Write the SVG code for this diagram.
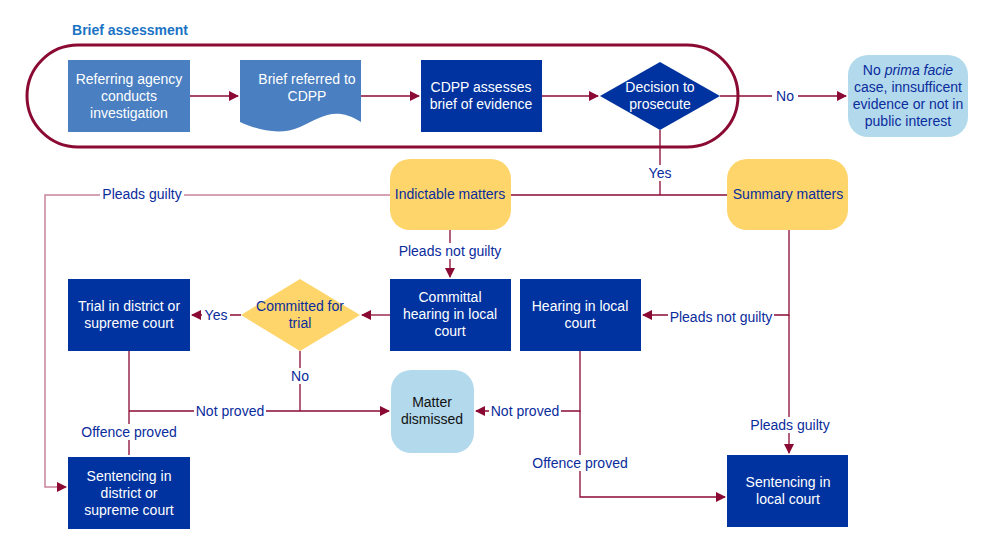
<svg xmlns="http://www.w3.org/2000/svg" width="995" height="556" viewBox="0 0 995 556">
<style>
text{font-family:"Liberation Sans",Arial,sans-serif;font-size:14px;text-anchor:middle}
.w{fill:#fff}.b{fill:#0a2c9c}
.ln{fill:none;stroke:#8b0a33;stroke-width:1.3}
.lt{fill:none;stroke:#c98399;stroke-width:1.5}
.lb{fill:#fff}
</style>
<defs><marker id="a" markerWidth="10" markerHeight="10" refX="9" refY="5" orient="auto" markerUnits="userSpaceOnUse"><path d="M0,0 L10,5 L0,10 z" fill="#8b0a33"/></marker></defs>
<rect width="995" height="556" fill="#fff"/>
<text x="130" y="35" style="font-weight:bold;fill:#1a73c4">Brief assessment</text>
<rect x="27" y="45" width="711" height="102" rx="51" fill="none" stroke="#8b0a33" stroke-width="3"/>
<g id="connectors">
<path class="ln" d="M190,96H238" marker-end="url(#a)"/>
<path class="ln" d="M361,96H419" marker-end="url(#a)"/>
<path class="ln" d="M542,96H598" marker-end="url(#a)"/>
<path class="ln" d="M720,96H846" marker-end="url(#a)"/>
<rect class="lb" x="772" y="88" width="26" height="16"/><text x="785" y="101" class="b">No</text>
<path class="ln" d="M660,130V195M511,195H727"/>
<rect class="lb" x="644" y="165" width="32" height="16"/><text x="660" y="178" class="b">Yes</text>
<path class="lt" d="M390,195H45V487H66" marker-end="url(#a)"/>
<rect class="lb" x="100" y="186" width="84" height="16"/><text x="142" y="199" class="b">Pleads guilty</text>
<path class="ln" d="M450,230V277" marker-end="url(#a)"/>
<rect class="lb" x="397" y="243" width="106" height="16"/><text x="450" y="256" class="b">Pleads not guilty</text>
<path class="ln" d="M390,315H362" marker-end="url(#a)"/>
<path class="ln" d="M241,315H192" marker-end="url(#a)"/>
<rect class="lb" x="202" y="307" width="28" height="16"/><text x="216" y="320" class="b">Yes</text>
<path class="ln" d="M300,351V411M129,351V455M129,411H389" marker-end="url(#a)"/>
<rect class="lb" x="287" y="368" width="26" height="16"/><text x="300" y="381" class="b">No</text>
<rect class="lb" x="194" y="403" width="72" height="16"/><text x="230" y="416" class="b">Not proved</text>
<rect class="lb" x="78" y="424" width="102" height="16"/><text x="129" y="437" class="b">Offence proved</text>
<path class="ln" d="M789,230V315H643" marker-end="url(#a)"/>
<path class="ln" d="M789,315V453" marker-end="url(#a)"/>
<rect class="lb" x="668" y="309" width="106" height="16"/><text x="721" y="322" class="b">Pleads not guilty</text>
<rect class="lb" x="748" y="417" width="84" height="16"/><text x="790" y="430" class="b">Pleads guilty</text>
<path class="ln" d="M580,351V411H476" marker-end="url(#a)"/>
<path class="ln" d="M580,411V497H725" marker-end="url(#a)"/>
<rect class="lb" x="489" y="403" width="72" height="16"/><text x="525" y="416" class="b">Not proved</text>
<rect class="lb" x="529" y="455" width="102" height="16"/><text x="580" y="468" class="b">Offence proved</text>
</g>
<g id="n1"><rect x="68" y="60" width="122" height="72" fill="#4a7fc1"/><text class="w" x="129" y="84">Referring agency</text><text class="w" x="129" y="101">conducts</text><text class="w" x="129" y="118">investigation</text></g>
<g id="n2"><path d="M240,60H361V122C335,105 320,118 300,127C280,136 258,130 240,122Z" fill="#4a7fc1"/><text class="w" x="307" y="84">Brief referred to</text><text class="w" x="307" y="101">CDPP</text></g>
<g id="n3"><rect x="421" y="60" width="121" height="72" fill="#0033a0"/><text class="w" x="481" y="92">CDPP assesses</text><text class="w" x="481" y="109">brief of evidence</text></g>
<g id="n4"><path d="M660,62L720,96L660,130L600,96Z" fill="#0033a0"/><text class="w" x="660" y="92">Decision to</text><text class="w" x="660" y="109">prosecute</text></g>
<g id="n5"><rect x="848" y="55" width="120" height="82" rx="20" fill="#b3d9ec"/><text class="b" x="908" y="75">No <tspan font-style="italic">prima facie</tspan></text><text class="b" x="908" y="92">case, innsufficent</text><text class="b" x="908" y="109">evidence or not in</text><text class="b" x="908" y="126">public interest</text></g>
<g id="n6"><rect x="390" y="159" width="121" height="71" rx="20" fill="#fed56a"/><text class="b" x="450" y="199">Indictable matters</text></g>
<g id="n7"><rect x="727" y="159" width="121" height="71" rx="20" fill="#fed56a"/><text class="b" x="788" y="199">Summary matters</text></g>
<g id="n8"><rect x="390" y="279" width="121" height="72" fill="#0033a0"/><text class="w" x="450" y="302">Committal</text><text class="w" x="450" y="319">hearing in local</text><text class="w" x="450" y="336">court</text></g>
<g id="n9"><rect x="520" y="279" width="121" height="72" fill="#0033a0"/><text class="w" x="580" y="311">Hearing in local</text><text class="w" x="580" y="328">court</text></g>
<g id="n10"><rect x="68" y="279" width="122" height="72" fill="#0033a0"/><text class="w" x="129" y="311">Trial in district or</text><text class="w" x="129" y="328">supreme court</text></g>
<g id="n11"><path d="M300,279L360,315L300,351L241,315Z" fill="#fed56a"/><text class="b" x="300" y="311">Committed for</text><text class="b" x="300" y="328">trial</text></g>
<g id="n12"><rect x="391" y="370" width="83" height="83" rx="20" fill="#b3d9ec"/><text x="432" y="407" fill="#111">Matter</text><text x="432" y="424" fill="#111">dismissed</text></g>
<g id="n13"><rect x="68" y="457" width="122" height="72" fill="#0033a0"/><text class="w" x="129" y="481">Sentencing in</text><text class="w" x="129" y="498">district or</text><text class="w" x="129" y="515">supreme court</text></g>
<g id="n14"><rect x="727" y="455" width="121" height="72" fill="#0033a0"/><text class="w" x="788" y="487">Sentencing in</text><text class="w" x="788" y="504">local court</text></g>
</svg>
